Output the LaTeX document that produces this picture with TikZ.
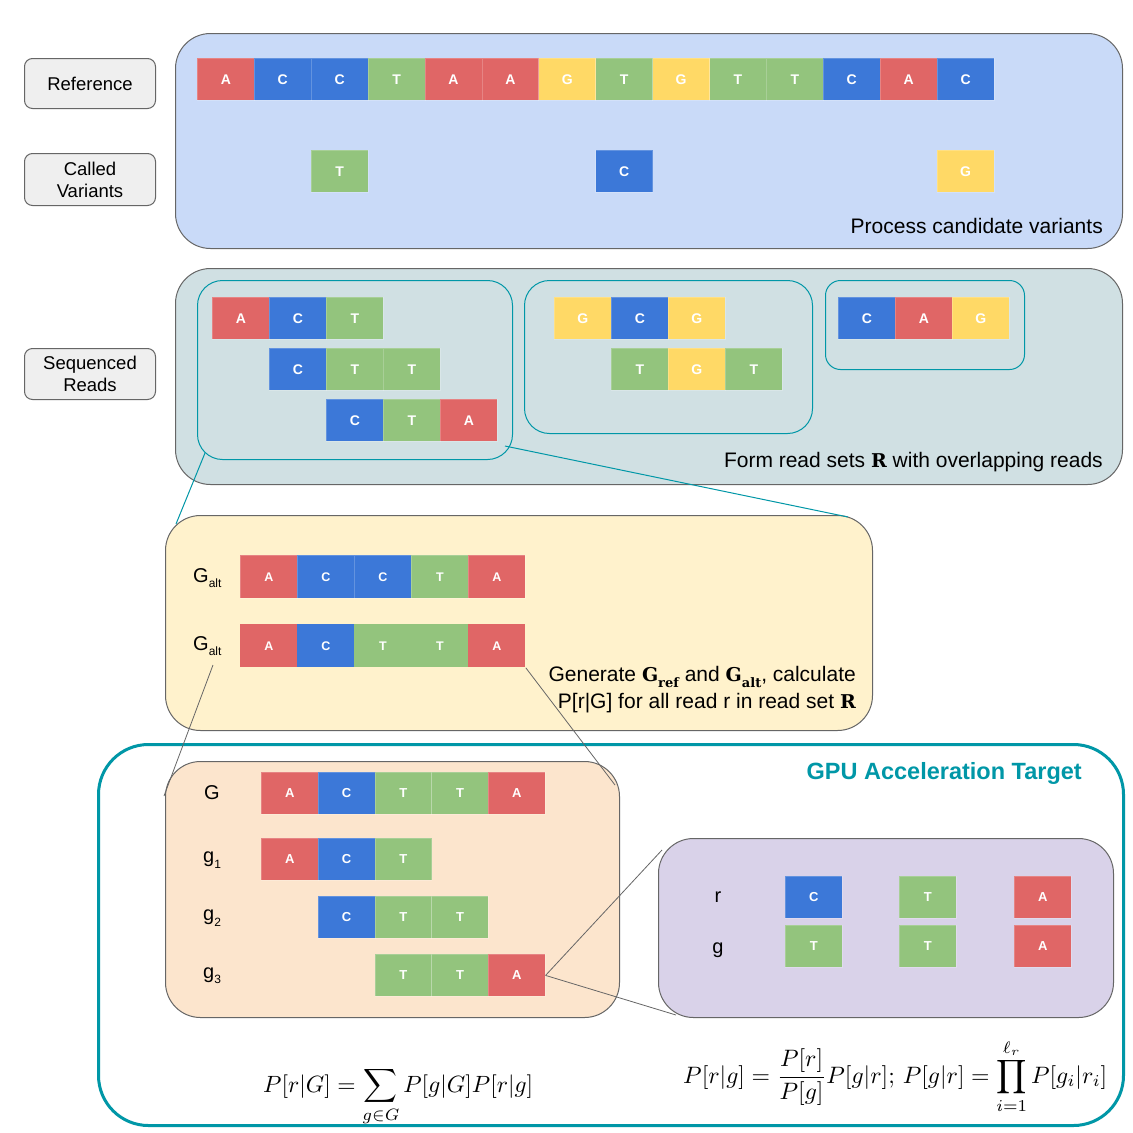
\documentclass[tikz,border=0pt]{standalone}
\usepackage{fontspec}
\usepackage{graphicx}
\setmainfont{Liberation Sans}
\newfontfamily\slabbold{DejaVu Serif}[BoldFont={DejaVu Serif Bold}]
\usetikzlibrary{calc}

% base colours
\definecolor{cA}{HTML}{E06666}
\definecolor{cC}{HTML}{3C78D8}
\definecolor{cT}{HTML}{93C47D}
\definecolor{cG}{HTML}{FFD966}
% panel colours
\definecolor{pBlue}{HTML}{C9DAF8}
\definecolor{pCyan}{HTML}{D0E0E3}
\definecolor{pYel}{HTML}{FFF2CC}
\definecolor{pOra}{HTML}{FCE5CD}
\definecolor{pPur}{HTML}{D9D2E9}
\definecolor{gpuTeal}{HTML}{0097A7}
\definecolor{edgeGray}{HTML}{666666}
\definecolor{tagGray}{HTML}{EFEFEF}

\tikzset{
  cell/.style={anchor=north west, minimum width=57, minimum height=42,
    inner sep=0pt, text=white, draw=white, draw opacity=0.2, line width=0.8,
    font=\fontsize{13}{13}\selectfont\bfseries},
  panel/.style={anchor=north west, draw=edgeGray, line width=1, inner sep=0pt,
    rounded corners=35},
  readset/.style={anchor=north west, draw=gpuTeal, line width=1, inner sep=0pt,
    rounded corners=25},
  tag/.style={anchor=north west, draw=edgeGray, fill=tagGray, rounded corners=8,
    line width=1, align=center, inner sep=0pt, minimum width=131,
    font=\fontsize{18.5}{22}\selectfont},
  caption/.style={anchor=east, align=right, inner sep=0pt,
    font=\fontsize{21}{27}\selectfont},
  rowlabel/.style={anchor=west, inner sep=0pt, font=\fontsize{20}{20}\selectfont},
  tealline/.style={draw=gpuTeal, line width=1},
  grayline/.style={draw=edgeGray, line width=0.8},
}

% a row of bases: [extra style]{name prefix}{x}{y}{step}{bases}
\newcommand\seqrow[6][]{%
  \foreach \b [count=\i] in {#6} {%
    \node[cell, fill=c\b, minimum width=#5, #1] (#2\i) at ({#3+#5*(\i-1)},#4) {\b};
  }%
}
\newcommand\lsub[1]{\raisebox{-0.5ex}{\fontsize{12}{12}\selectfont #1}}
% bold serif symbols used in the captions
\newcommand\bsym[1]{{\slabbold\bfseries\fontsize{19}{19}\selectfont #1}}
\newcommand\bsub[2]{\bsym{#1}\raisebox{-0.55ex}{\slabbold\bfseries\fontsize{13}{13}\selectfont #2}}

\begin{document}
\begin{tikzpicture}[x=1pt,y=-1pt]
\useasboundingbox[fill=white] (0,0) rectangle (1133,1133);

% ---------- side tags ----------
\node[tag, minimum height=50] (tagRef) at (24,58) {Reference};
\node[tag, minimum height=52] (tagVar) at (24,153) {Called\\Variants};
\node[tag, minimum height=51] (tagSeq) at (24,348) {Sequenced\\Reads};

% ---------- panels ----------
\node[panel, fill=pBlue, minimum width=947, minimum height=215] (p1) at (175,33) {};
\node[panel, fill=pCyan, minimum width=947, minimum height=216] (p2) at (175,268) {};
\node[readset, minimum width=315, minimum height=179] (set1) at (197,280) {};
\node[readset, minimum width=288, minimum height=153] (set2) at (524,280) {};
\node[readset, rounded corners=15, minimum width=199, minimum height=89] (set3) at (825,280) {};
\node[panel, fill=pYel, minimum width=707, minimum height=215] (p3) at (165,515) {};
\node[anchor=north west, draw=gpuTeal, line width=3, rounded corners=50,
      inner sep=0pt, minimum width=1025, minimum height=381] (gpu) at (97,743) {};
\node[panel, fill=pOra, minimum width=454, minimum height=256] (p4) at (165,761) {};
\node[panel, fill=pPur, minimum width=455, minimum height=179] (p5) at (658,838) {};

% ---------- reference and variants ----------
\seqrow[font=\fontsize{14}{14}\selectfont\bfseries]{ref}{197}{58}{56.9}{A,C,C,T,A,A,G,T,G,T,T,C,A,C}
\seqrow[font=\fontsize{14}{14}\selectfont\bfseries]{varT}{310.8}{150}{56.9}{T}
\seqrow[font=\fontsize{14}{14}\selectfont\bfseries]{varC}{595.3}{150}{56.9}{C}
\seqrow[font=\fontsize{14}{14}\selectfont\bfseries]{varG}{936.7}{150}{56.9}{G}

% ---------- read sets ----------
\seqrow[font=\fontsize{14}{14}\selectfont\bfseries]{sa}{212}{297}{57}{A,C,T}
\seqrow[font=\fontsize{14}{14}\selectfont\bfseries]{sb}{269}{348}{57}{C,T,T}
\seqrow[font=\fontsize{14}{14}\selectfont\bfseries]{sc}{326}{399}{57}{C,T,A}
\seqrow[font=\fontsize{14}{14}\selectfont\bfseries]{sd}{554}{297}{57}{G,C,G}
\seqrow[font=\fontsize{14}{14}\selectfont\bfseries]{se}{611}{348}{57}{T,G,T}
\seqrow[font=\fontsize{14}{14}\selectfont\bfseries]{sf}{838}{297}{57}{C,A,G}

% ---------- connectors ----------
\coordinate (s1bl) at (205,453);
\coordinate (p3tl) at (176,524);
\coordinate (s1br) at (505,446);
\coordinate (p3tr) at (848,517);
\draw[tealline] (s1bl) -- (p3tl);
\draw[tealline] (s1br) -- (p3tr);

% ---------- haplotypes ----------
\node[rowlabel] (lgA) at (193,578) {G\lsub{alt}};
\node[rowlabel] (lgB) at (193,646) {G\lsub{alt}};
\seqrow[minimum height=43, font=\fontsize{12.5}{12.5}\selectfont\bfseries]{ha}{240}{555}{57}{A,C,C,T,A}
\seqrow[minimum height=43, draw=none, font=\fontsize{12.5}{12.5}\selectfont\bfseries]{hb}{240}{624}{57}{A,C,T,T,A}

\node[caption] (cap3) at (856,690)
  {Generate \bsub{G}{ref} and \bsub{G}{alt}, calculate\\
   P[r|G] for all read r in read set \bsym{R}};

\coordinate (lgBfoot) at (213,665);
\coordinate (p4tl) at (164,796);
\coordinate (p4tr) at (615,785);
\draw[grayline] (lgBfoot) -- (p4tl);
\draw[grayline] (hb5.south east) -- (p4tr);

% ---------- GPU part ----------
\node[anchor=east, inner sep=0pt, text=gpuTeal,
      font=\fontsize{23.5}{28}\selectfont\bfseries] (gpuTitle) at (1082,773)
  {GPU Acceleration Target};

\node[rowlabel, anchor=center] (lG) at (212,793) {G};
\node[rowlabel] (lg1) at (203,860) {g\lsub{1}};
\node[rowlabel] (lg2) at (203,918) {g\lsub{2}};
\node[rowlabel] (lg3) at (203,976) {g\lsub{3}};
\seqrow{gG}{261}{772}{56.75}{A,C,T,T,A}
\seqrow{ga}{261}{838}{56.75}{A,C,T}
\seqrow{gb}{317.75}{896}{56.75}{C,T,T}
\seqrow{gc}{374.5}{954}{56.75}{T,T,A}

\coordinate (p5tl) at (662,850);
\coordinate (p5bl) at (676,1015);
\draw[grayline] (gc3.east) -- (p5tl);
\draw[grayline] (gc3.east) -- (p5bl);

\node[rowlabel, anchor=center] (lr) at (718,897) {r};
\node[rowlabel, anchor=center] (lgg) at (718,950) {g};
\node[cell, fill=cC] (rc1) at (785,876) {C};
\node[cell, fill=cT] (rc2) at (899,876) {T};
\node[cell, fill=cA] (rc3) at (1014,876) {A};
\node[cell, fill=cT] (gc1') at (785,925) {T};
\node[cell, fill=cT] (gc2') at (899,925) {T};
\node[cell, fill=cA] (gc3') at (1014,925) {A};

% ---------- captions ----------
\node[caption] (cap1) at (1103,226) {Process candidate variants};
\node[caption] (cap2) at (1103,462) {Form read sets \bsym{R} with overlapping reads};

% ---------- formulas ----------
\node[anchor=base west, inner sep=0pt] (f1) at (263,1092)
  {\resizebox{270pt}{!}{$\displaystyle P[r|G]=\sum_{g\in G}P[g|G]P[r|g]$}};
\node[anchor=base west, inner sep=0pt] (f2) at (683,1083)
  {\resizebox{424pt}{!}{$\displaystyle P[r|g]=\frac{P[r]}{P[g]}P[g|r];\,P[g|r]=\prod_{i=1}^{\ell_r}P[g_i|r_i]$}};
\end{tikzpicture}
\end{document}
